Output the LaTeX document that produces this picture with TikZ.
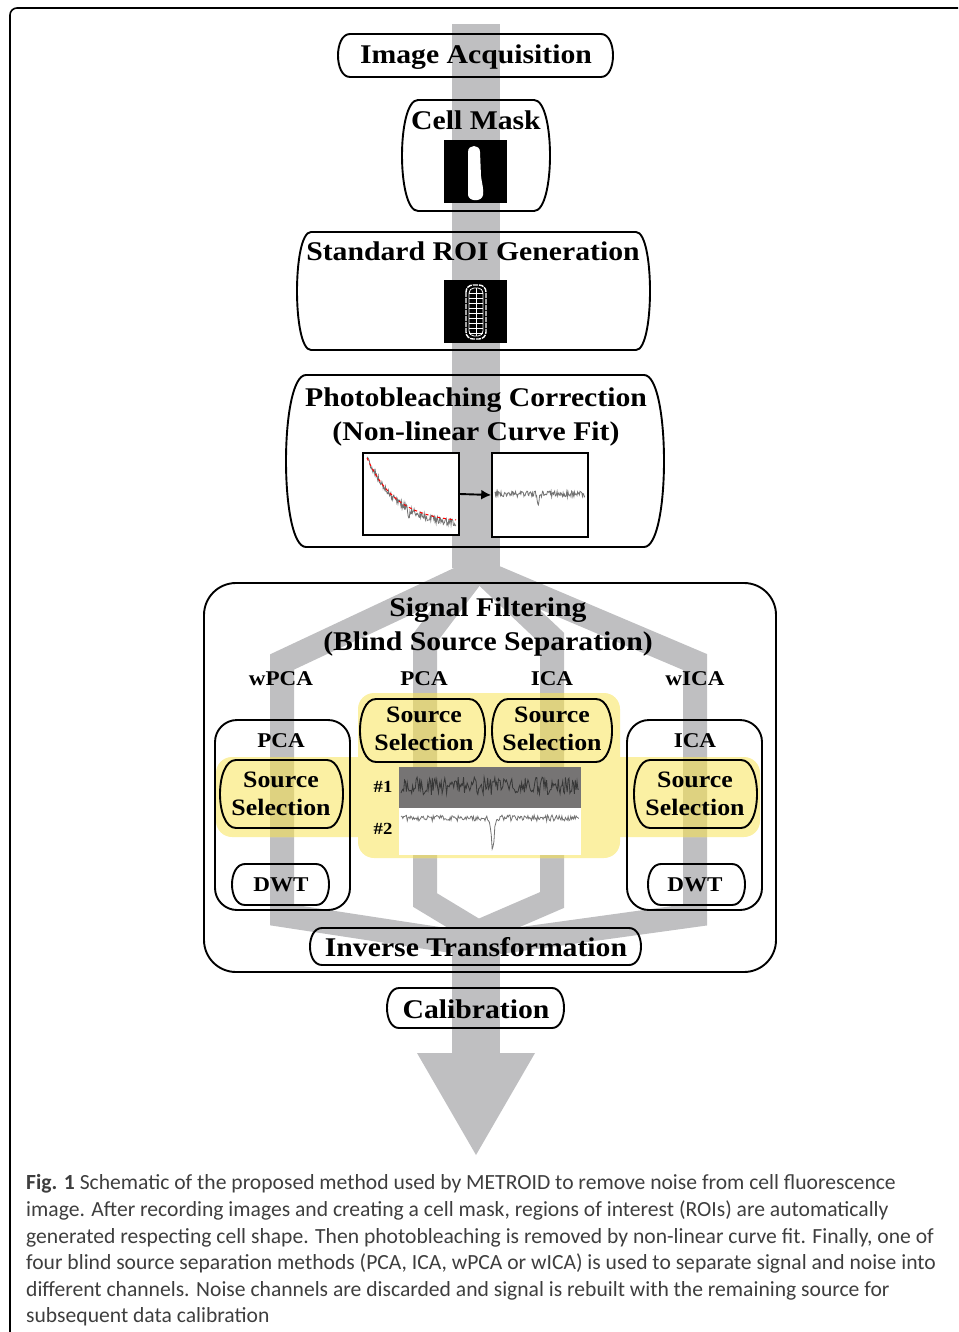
\documentclass[tikz,border=0pt]{standalone}
\usepackage{fontspec}
\usetikzlibrary{arrows.meta}
\newfontfamily\lab[FakeStretch=1.1]{Liberation Serif}
\newfontfamily\capf{Carlito}
\definecolor{bar}{RGB}{191,191,193}
\definecolor{hl}{RGB}{251,240,163}
\definecolor{barhl}{RGB}{222,210,128}
\definecolor{captxt}{RGB}{62,62,62}
\definecolor{darkplot}{RGB}{118,116,116}
\definecolor{trace}{RGB}{115,115,115}
\definecolor{darktrace}{RGB}{55,55,55}
\tikzset{
  boxline/.style={draw=black, line width=1.9},
  ttl/.style={font=\lab\bfseries\fontsize{27}{34.5}\selectfont, inner sep=0, align=center},
  sublab/.style={font=\lab\bfseries\fontsize{21}{24}\selectfont, inner sep=0},
  srcsel/.style={font=\lab\bfseries\fontsize{23.5}{28}\selectfont, inner sep=0, align=center},
  numlab/.style={font=\lab\bfseries\fontsize{17}{20}\selectfont, inner sep=0},
  captext/.style={font=\capf\fontsize{21.6}{24}\selectfont, text=captxt, inner sep=0, anchor=base west},
  plotbox/.style={draw=black, line width=1.6, fill=white, inner sep=0},
  branch/.style={line width=24, line join=miter, line cap=butt},
}
% barrel-shaped box: x1 y1 x2 y2 inset
\newcommand\mybarrel[5]{%
  \draw[boxline] ({#1+#5},#2) -- ({#3-#5},#2)
    .. controls ({#3+#5/3},#2) and ({#3+#5/3},#4) .. ({#3-#5},#4)
    -- ({#1+#5},#4)
    .. controls ({#1-#5/3},#4) and ({#1-#5/3},#2) .. cycle;}
\newcommand\flowbars[1]{%
  \fill[#1] (452,24) rectangle (500,568);
  \draw[#1, branch] (478,570) -- (282,662) -- (282,915) -- (478,945);
  \draw[#1, branch] (478,570) -- (695,662) -- (695,915) -- (478,945);
  \draw[#1, branch] (478,568) -- (425,638) -- (425,900) -- (478,932);
  \draw[#1, branch] (478,568) -- (552,638) -- (552,900) -- (478,932);
  \fill[#1] (452,928) rectangle (500,1054);
  \fill[#1] (417,1053) -- (535,1053) -- (476,1155) -- cycle;}
\begin{document}
\begin{tikzpicture}[x=1pt,y=-1pt]
\useasboundingbox (0,0) rectangle (958,1332);
% outer frame
\draw[line width=1.6, rounded corners=7] (10,1332) -- (10,8) -- (958,8);
% gray flow
\flowbars{bar}
% yellow highlight
\fill[hl, rounded corners=16] (358,693) rectangle (620,858) (216,757) rectangle (760,837);
\begin{scope}
  \clip[rounded corners=16] (358,693) rectangle (620,858) (216,757) rectangle (760,837);
  \flowbars{barhl}
\end{scope}
% ---- Image acquisition
\mybarrel{338}{34}{613}{77}{12}
\node[ttl] (acq) at (476,57) {Image Acquisition};
% ---- Cell mask
\mybarrel{402}{100}{550}{211}{16}
\node[ttl] (cm) at (476,120) {Cell Mask};
\node[fill=black, minimum size=63, inner sep=0] (cmimg) at (475.5,172) {};
\fill[white] (468,152) .. controls (468,144) and (480,144) .. (480,152)
  -- (481,176) .. controls (482,184) and (484,190) .. (483,195)
  .. controls (482,202) and (469,202) .. (468,195) -- cycle;
% ---- ROI generation
\mybarrel{297}{232}{650}{350}{14}
\node[ttl] (roi) at (473,251) {Standard ROI Generation};
\node[fill=black, minimum size=63, inner sep=0] (roiimg) at (475.5,311) {};
\begin{scope}[white]
  \draw[line width=1.4, rounded corners=7, dash pattern=on 5 off 1] (466,285) rectangle (486,339);
  \draw[line width=0.8, rounded corners=5] (469,288) rectangle (483,336);
  \draw[line width=0.7] (476,288) -- (476,336);
  \foreach \yy in {293,298,...,333} {\draw[line width=0.7] (469,\yy) -- (483,\yy);}
\end{scope}
% ---- Photobleaching
\mybarrel{286}{375}{664}{547}{20}
\node[ttl] (pb) at (476,417) {Photobleaching Correction\\(Non-linear Curve Fit)};
\node[plotbox, minimum width=96, minimum height=82] (pbl) at (411,494) {};
\node[plotbox, minimum width=96, minimum height=84] (pbr) at (540,495) {};
\pgfmathsetseed{11}
\draw[trace, line width=0.8] plot[domain=0:1, samples=150] ({367+89*\x},{457+66*(1-exp(-3*\x))/(1-exp(-3))+3.5*rand+8*exp(-((\x-0.47)/0.012)^2)});
\draw[red, dashed, line width=1] plot[domain=0:1, samples=40] ({367+89*\x},{458+62*(1-exp(-3*\x))/(1-exp(-3))});
\draw[trace, line width=0.8] plot[domain=0:1, samples=150] ({495+90*\x},{494+3*rand+11*exp(-((\x-0.48)/0.012)^2)});
\draw[-{Latex[length=10,width=10]}, line width=1.9] (pbl.east) -- (pbr.west);
% ---- Signal filtering
\draw[boxline, rounded corners=32] (204,583) rectangle (776,972);
\node[ttl] (sf) at (488,627) {Signal Filtering\\(Blind Source Separation)};
\node[sublab] (wpca) at (281,679) {wPCA};
\node[sublab] (pca) at (424,679) {PCA};
\node[sublab] (ica) at (552,679) {ICA};
\node[sublab] (wica) at (695,679) {wICA};
\draw[boxline, rounded corners=22] (215,720) rectangle (350,910);
\draw[boxline, rounded corners=22] (627,720) rectangle (762,910);
\node[sublab] (pcab) at (281,741) {PCA};
\node[sublab] (icab) at (695,741) {ICA};
\mybarrel{220}{760}{343}{828}{16}
\node[srcsel] (ssl) at (281,794) {Source\\Selection};
\mybarrel{360}{699}{485}{762}{16}
\node[srcsel] (sscl) at (424,729) {Source\\Selection};
\mybarrel{492}{699}{612}{762}{16}
\node[srcsel] (sscr) at (552,729) {Source\\Selection};
\mybarrel{634}{760}{757}{828}{16}
\node[srcsel] (ssr) at (695,794) {Source\\Selection};
\mybarrel{232}{864}{329}{905}{13}
\node[sublab] (dwtl) at (281,885) {DWT};
\mybarrel{648}{864}{745}{905}{13}
\node[sublab] (dwtr) at (695,885) {DWT};
% sources plot
\node[fill=darkplot, minimum width=182, minimum height=41, inner sep=0] (s1) at (490,787.5) {};
\node[fill=white, minimum width=182, minimum height=47, inner sep=0] (s2) at (490,831.5) {};
\draw[darktrace, line width=0.8] plot[domain=0:1, samples=200] ({401+178*\x},{786+9*rand});
\draw[trace, line width=0.8] plot[domain=0:1, samples=200] ({401+178*\x},{818+3*rand+30*exp(-((\x-0.515)/0.012)^2)});
\node[numlab] (n1) at (383,787) {\#1};
\node[numlab] (n2) at (383,829) {\#2};
% ---- Inverse transformation
\mybarrel{310}{928}{641}{965}{12}
\node[ttl] (inv) at (476,947) {Inverse Transformation};
% ---- Calibration
\mybarrel{387}{988}{564}{1028}{12}
\node[ttl] (cal) at (476,1009) {Calibration};
% ---- caption
\node[captext] (c1) at (26,1189) {{\bfseries Fig. 1} Schematic of the proposed method used by METROID to remove noise from cell fluorescence};
\node[captext] (c2) at (26,1216) {image. After recording images and creating a cell mask, regions of interest (ROIs) are automatically};
\node[captext] (c3) at (26,1243) {generated respecting cell shape. Then photobleaching is removed by non-linear curve fit. Finally, one of};
\node[captext] (c4) at (26,1269) {four blind source separation methods (PCA, ICA, wPCA or wICA) is used to separate signal and noise into};
\node[captext] (c5) at (26,1296) {different channels. Noise channels are discarded and signal is rebuilt with the remaining source for};
\node[captext] (c6) at (26,1322) {subsequent data calibration};
\end{tikzpicture}
\end{document}
